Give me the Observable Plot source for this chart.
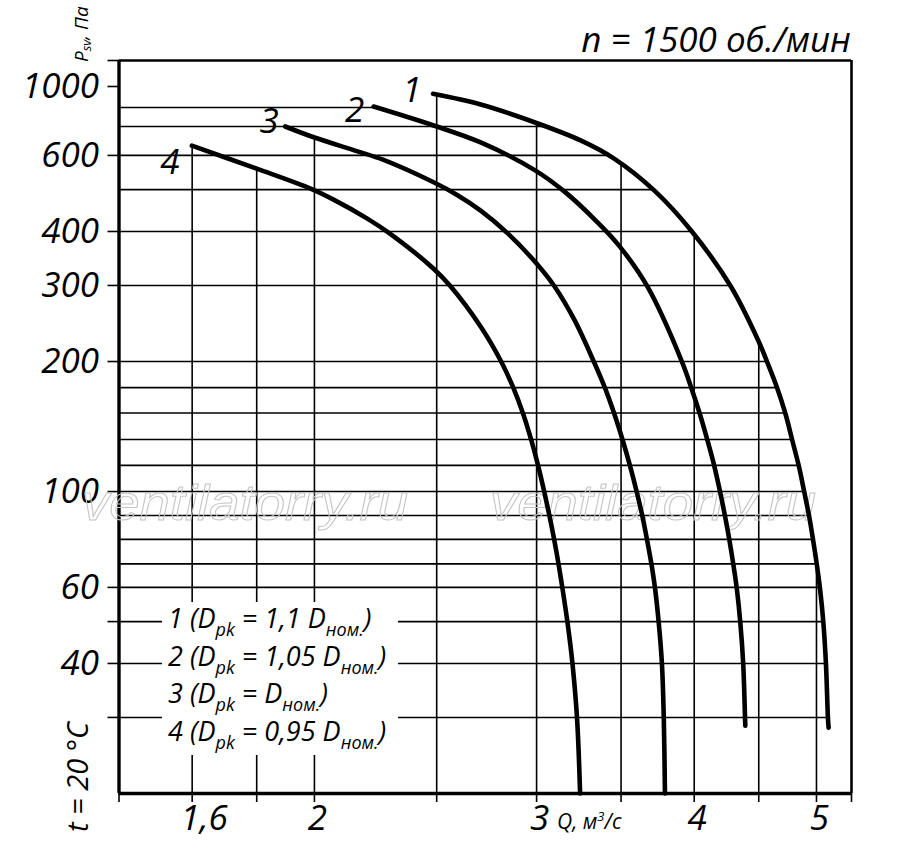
<!DOCTYPE html>
<html><head><meta charset="utf-8">
<script src="https://cdn.jsdelivr.net/npm/d3@7"></script>
<script src="https://cdn.jsdelivr.net/npm/@observablehq/plot@0.6"></script>
<style>html,body{margin:0;padding:0;background:#fff}svg{display:block}</style>
</head><body><div id="chart"></div>
<script>
// ---- data (Q, м³/с ; Psv, Па) ----
const curveNames = ["1", "2", "3", "4"];
const curve1 = [[2.483,925],[2.709,826],[2.992,720],[3.251,650],[3.456,590],[3.718,498],[3.983,400],[4.278,298],[4.495,224],[4.568,200],[4.653,174],[4.726,151],[4.782,132],[4.840,115],[4.889,100],[4.934,87.5],[4.970,77],[5.003,67.8],[5.032,59.7],[5.063,49.8],[5.087,40],[5.106,29.8],[5.112,28.4]];
const curve2 = [[2.228,808],[2.486,705],[2.709,643],[2.992,554],[3.164,492],[3.342,424],[3.487,371],[3.673,298],[3.911,200],[3.981,173],[4.042,151],[4.096,132],[4.148,115],[4.193,100],[4.232,87.5],[4.266,77],[4.296,67.8],[4.323,59.7],[4.351,49.8],[4.374,40],[4.389,29.8],[4.391,28.7]];
const curve3 = [[1.896,700],[2.0,660],[2.161,614],[2.269,586],[2.486,520],[2.595,486],[2.709,447],[2.846,396],[2.995,339],[3.101,298],[3.216,249],[3.330,200],[3.398,174],[3.458,151],[3.509,132],[3.557,115],[3.601,100],[3.638,88],[3.671,77],[3.700,67.8],[3.724,59.7],[3.749,49.8],[3.771,40],[3.784,29.8],[3.792,20]];
const curve4 = [[1.599,632],[1.800,559],[1.988,502],[2.071,474],[2.201,429],[2.297,395],[2.486,328],[2.563,299],[2.711,240],[2.812,200],[2.875,174],[2.928,151],[2.970,132],[3.008,115],[3.042,100],[3.071,88],[3.099,77],[3.123,67.8],[3.145,59.7],[3.174,49.8],[3.203,40],[3.230,29.8],[3.248,20]];
const curves = [curve1, curve2, curve3, curve4];

const gridQ = [1.6, 1.8, 2, 2.5, 3, 3.5, 4, 4.5, 5];
const gridP = [800, 700, 600, 500, 400, 300, 200, 174, 152, 132, 115, 100, 88, 77.5, 68, 60, 50, 40, 30];
const xTickMarks = [1.4, 1.6, 1.8, 2, 2.5, 3, 3.5, 4, 4.5, 5, 5.33];
const xTickLabels = [2, 3, 4, 5];
const xTickFirst = [1.6];
const yTickMarks = [1250, 1000, 600, 400, 300, 200, 100, 60, 50, 40, 30];
const yTickLabels = [1000, 600, 400, 300, 200, 100, 60, 40];
const legendItems = [
  ["1 (D", "pk", " = 1,1 D", "ном.", ")"],
  ["2 (D", "pk", " = 1,05 D", "ном.", ")"],
  ["3 (D", "pk", " = D", "ном.", ")"],
  ["4 (D", "pk", " = 0,95 D", "ном.", ")"]
];
const titleText = "n = 1500 об./мин";
const watermark = "ventilatorry.ru";

// ---- helpers: interpolate along a curve (log space) ----
const L = Math.log10;
function pAt(c, q) {
  if (q < c[0][0] - 0.005 || q > c[c.length - 1][0]) return null;
  if (q <= c[0][0]) return c[0][1];
  for (let i = 0; i < c.length - 1; i++) {
    const [q0, p0] = c[i], [q1, p1] = c[i + 1];
    if (q >= q0 && q <= q1) { const t = (L(q) - L(q0)) / (L(q1) - L(q0)); return 10 ** (L(p0) + t * (L(p1) - L(p0))); }
  }
  return null;
}
function qAt(c, p) {
  for (let i = 0; i < c.length - 1; i++) {
    const [q0, p0] = c[i], [q1, p1] = c[i + 1];
    if (p <= p0 && p >= p1) { const t = (L(p) - L(p0)) / (L(p1) - L(p0)); return 10 ** (L(q0) + t * (L(q1) - L(q0))); }
  }
  return c[c.length - 1][0];
}
const envelope = q => Math.max(...curves.map(c => pAt(c, q)).filter(v => v != null));
const hEnd = p => p >= 800 ? curve2[0][0] : qAt(curve1, p);

const rows = [];
curves.forEach((c, i) => c.forEach(([q, p]) => rows.push({id: curveNames[i], q, p})));
const starts = curves.map((c, i) => ({id: curveNames[i], q: c[0][0], p: c[0][1]}));
const labelOffsets = [[-21, -3], [-19, 4], [-16, -5], [-22, 17]];

const FONT = "'Open Sans', 'Noto Sans', sans-serif";
const big = {fontSize: 35, fontStyle: "italic", fill: "black"};

const plot = Plot.plot({
  width: 900, height: 846,
  marginLeft: 118.5, marginRight: 49, marginTop: 60, marginBottom: 53,
  style: {fontFamily: FONT, background: "white", color: "black"},
  x: {type: "log", domain: [1.4, 5.33]},
  y: {type: "log", domain: [20, 700, 800, 1000, 1250], range: [793, 126, 107, 86, 60]},
  marks: [
    Plot.ruleY(gridP, {y: d => d, x1: () => 1.4, x2: d => hEnd(d), stroke: "black", strokeWidth: 1.6}),
    Plot.ruleX(gridQ, {x: d => d, y1: () => 20, y2: d => envelope(d), stroke: "black", strokeWidth: 1.6}),
    Plot.axisY({ticks: yTickMarks, tickSize: 11, strokeWidth: 1.6, label: null, tickFormat: () => ""}),
    Plot.axisX({ticks: xTickMarks, tickSize: 9, strokeWidth: 1.6, label: null, tickFormat: () => ""}),
    Plot.text(yTickLabels, {y: d => d, text: d => String(d), frameAnchor: "left", textAnchor: "end", dx: -20, ...big}),
    Plot.text(xTickFirst, {x: d => d, text: d => String(d).replace(".", ","), frameAnchor: "bottom", lineAnchor: "middle", dy: 25, dx: 12, ...big}),
    Plot.text(xTickLabels, {x: d => d, text: d => String(d), frameAnchor: "bottom", lineAnchor: "middle", dy: 25, dx: 3, ...big}),
    Plot.ruleX([1.4], {stroke: "black", strokeWidth: 3.4}),
    Plot.ruleY([20], {stroke: "black", strokeWidth: 3.4}),
    Plot.ruleY([1250], {stroke: "black", strokeWidth: 2.6}),
    Plot.ruleX([5.33], {stroke: "black", strokeWidth: 2.6}),
    Plot.line(rows, {x: "q", y: "p", z: "id", stroke: "black", strokeWidth: 4.6, curve: "catmull-rom", strokeLinecap: "round"}),
    ...starts.map((s, i) => Plot.text([s], {x: "q", y: "p", text: "id", dx: labelOffsets[i][0], dy: labelOffsets[i][1], ...big}))
  ]
});
document.getElementById("chart").append(plot);

const svg = d3.select(plot);
// watermark (under the curves)
const wm = svg.insert("g", 'g[aria-label="line"]').attr("text-anchor", "start")
  .attr("font-family", "'Liberation Sans', Arial, sans-serif").attr("font-style", "italic")
  .attr("font-size", 50).attr("fill", "none").attr("stroke", "#c4c4c4").attr("stroke-width", 1);
[82, 490].forEach(x => wm.append("text").attr("x", x).attr("y", 520).attr("textLength", 326).attr("lengthAdjust", "spacingAndGlyphs").text(watermark));

const ann = svg.append("g").attr("text-anchor", "start").attr("font-family", FONT).attr("font-style", "italic").attr("fill", "black");
// title
ann.append("text").attr("x", 851).attr("y", 52).attr("text-anchor", "end").attr("font-size", 35).text(titleText);

// axis labels
const yl = ann.append("text").attr("transform", "translate(88,62) rotate(-90)").attr("font-size", 19);
yl.append("tspan").text("P");
yl.append("tspan").attr("font-size", 13).attr("dy", 3).text("sv");
yl.append("tspan").attr("dy", -3).text(", Па");

ann.append("text").attr("transform", "translate(88,832) rotate(-90)").attr("font-size", 29).text("t = 20 °C");

const ql = ann.append("text").attr("x", 557).attr("y", 829).attr("font-size", 21);
ql.append("tspan").text("Q, м");
ql.append("tspan").attr("font-size", 13).attr("dy", -8).text("3");
ql.append("tspan").attr("dy", 8).text("/с");

// legend block
const lg = ann.append("g").attr("font-size", 27);
lg.append("rect").attr("x", 162).attr("y", 602).attr("width", 236).attr("height", 153).attr("fill", "white");
legendItems.forEach((parts, i) => {
  const t = lg.append("text").attr("x", 168).attr("y", 628 + i * 37.5);
  parts.forEach((s, j) => {
    const sp = t.append("tspan").text(s);
    if (j % 2 === 1) sp.attr("font-size", 18).attr("dy", 8);
    else if (j > 0) sp.attr("dy", -8);
  });
});
</script></body></html>
